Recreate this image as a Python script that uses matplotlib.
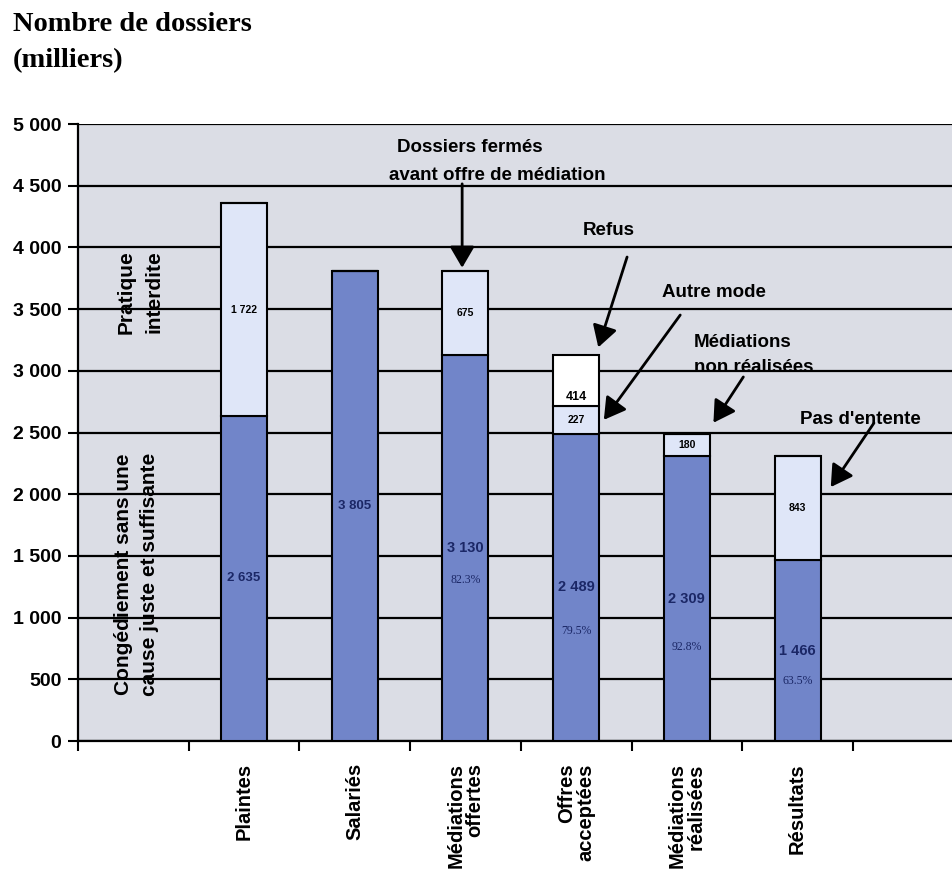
import matplotlib
matplotlib.use("Agg")
import matplotlib.pyplot as plt
import numpy as np

# ---- data ----
categories = ["Plaintes", "Salariés", "Médiations\noffertes", "Offres\nacceptées",
              "Médiations\nréalisées", "Résultats"]
dark_vals = [2635, 3805, 3130, 2489, 2309, 1466]
light_vals = [1722, 0, 675, 227, 180, 843]
white_vals = [0, 0, 0, 414, 0, 0]
pct_labels = ["", "", "82.3%", "79.5%", "92.8%", "63.5%"]
y_ticks = [0, 500, 1000, 1500, 2000, 2500, 3000, 3500, 4000, 4500, 5000]

def fmt(v):
    return f"{v:,}".replace(",", " ")

SANS = "Liberation Sans"
SERIF = "Liberation Serif"
DARK = "#7185C9"
LIGHT = "#DFE6F8"
BG = "#DBDDE5"
NAVY = "#1B2766"

fig = plt.figure(figsize=(9.53, 8.77), dpi=100)
ax = fig.add_axes([78 / 953, 136 / 877, 875 / 953, 617 / 877])
ax.set_facecolor(BG)

x = np.arange(1, len(categories) + 1)
w = 0.415
dark = np.array(dark_vals)
light = np.array(light_vals)
white = np.array(white_vals)

ax.bar(x, dark, w, color=DARK, edgecolor="black", linewidth=1.5, zorder=3)
ax.bar(x, light, w, bottom=dark, color=LIGHT, edgecolor="black", linewidth=1.5, zorder=3)
ax.bar(x, white, w, bottom=dark + light, color="white", edgecolor="black", linewidth=1.5, zorder=3)

ax.set_xlim(-0.5, 7.404)
ax.set_ylim(0, 5000)
ax.set_yticks(y_ticks)
ax.set_yticklabels([fmt(v) for v in y_ticks], fontfamily=SANS, fontweight="bold", fontsize=14)
ax.set_xticks(np.arange(-0.5, 7.5, 1.0))
ax.set_xticklabels([])
ax.tick_params(axis="both", length=7, width=1.5, color="black", direction="out")
ax.tick_params(axis="y", pad=5)
ax.set_axisbelow(True)
ax.yaxis.grid(True, color="black", linewidth=1.6, zorder=0)
for s in ["top", "right"]:
    ax.spines[s].set_visible(False)
ax.spines["left"].set_linewidth(1.6)
ax.spines["bottom"].set_linewidth(1.6)

# category labels
for xi, c in zip(x, categories):
    ax.text(xi, -0.036, c, transform=ax.get_xaxis_transform(), rotation=90,
            ha="center", va="top", multialignment="right", fontfamily=SANS,
            fontweight="bold", fontsize=14.5, linespacing=1.0)

# value labels
for i, (xi, d, l, wv, p) in enumerate(zip(x, dark, light, white, pct_labels)):
    ax.text(xi, d / 2, fmt(d), ha="center", va="center", fontfamily=SANS,
            fontweight="bold", fontsize=10.5 if p else 9.5, color=NAVY, zorder=5)
    if p:
        off = {2: 260, 3: 350, 4: 390, 5: 250}[i]
        ax.text(xi, d / 2 - off, p, ha="center", va="center", fontfamily=SERIF,
                fontsize=8.5, color=NAVY, zorder=5)
    if l > 0:
        ax.text(xi, d + l / 2, fmt(l), ha="center", va="center", fontfamily=SANS,
                fontweight="bold", fontsize=7.5, color="black", zorder=5)
    if wv > 0:
        ax.text(xi, d + l + 72, fmt(wv), ha="center", va="center", fontfamily=SANS,
                fontweight="bold", fontsize=9, color="black", zorder=5)

# side labels in empty first slot
ax.text(0.06, 3640, "Pratique\ninterdite", rotation=90, ha="center", va="center",
        fontfamily=SANS, fontweight="bold", fontsize=15, linespacing=1.55, zorder=5)
ax.text(0.03, 1353, "Congédiement sans une\ncause juste et suffisante", rotation=90,
        ha="center", va="center", fontfamily=SANS, fontweight="bold", fontsize=15,
        linespacing=1.5, zorder=5)

# annotations
tot = dark + light + white
ap = dict(arrowstyle="-|>,head_length=0.65,head_width=0.38", mutation_scale=20, lw=2.0,
          color="black", shrinkA=0, shrinkB=0)
tf = dict(fontfamily=SANS, fontweight="bold", fontsize=13.5, zorder=6)

ax.text(2.38, 4806, "Dossiers fermés", ha="left", va="center", **tf)
ax.text(2.31, 4579, "avant offre de médiation", ha="left", va="center", **tf)
ax.annotate("", xy=(2.97, tot[2] + 30), xytext=(2.97, 4515), arrowprops=ap, zorder=6)

ax.text(4.29, 4141, "Refus", ha="center", va="center", **tf)
ax.annotate("", xy=(4.2, tot[3] + 60), xytext=(4.46, 3922), arrowprops=ap, zorder=6)

ax.text(5.24, 3631, "Autre mode", ha="center", va="center", **tf)
ax.annotate("", xy=(4.25, dark[3] + light[3] / 2), xytext=(4.94, 3452), arrowprops=ap, zorder=6)

ax.text(5.06, 3233, "Médiations", ha="left", va="center", **tf)
ax.text(5.06, 3023, "non réalisées", ha="left", va="center", **tf)
ax.annotate("", xy=(5.24, tot[4] + 90), xytext=(5.51, 2950), arrowprops=ap, zorder=6)

ax.text(6.57, 2609, "Pas d'entente", ha="center", va="center", **tf)
ax.annotate("", xy=(6.30, 2058), xytext=(6.69, 2577), arrowprops=ap, zorder=6)

# title
fig.text(13 / 953, 1 - 12 / 877, "Nombre de dossiers\n(milliers)", ha="left", va="top",
         fontfamily=SERIF, fontweight="bold", fontsize=20.5, linespacing=1.6)

fig.savefig("out.png", dpi=100, facecolor="white")
